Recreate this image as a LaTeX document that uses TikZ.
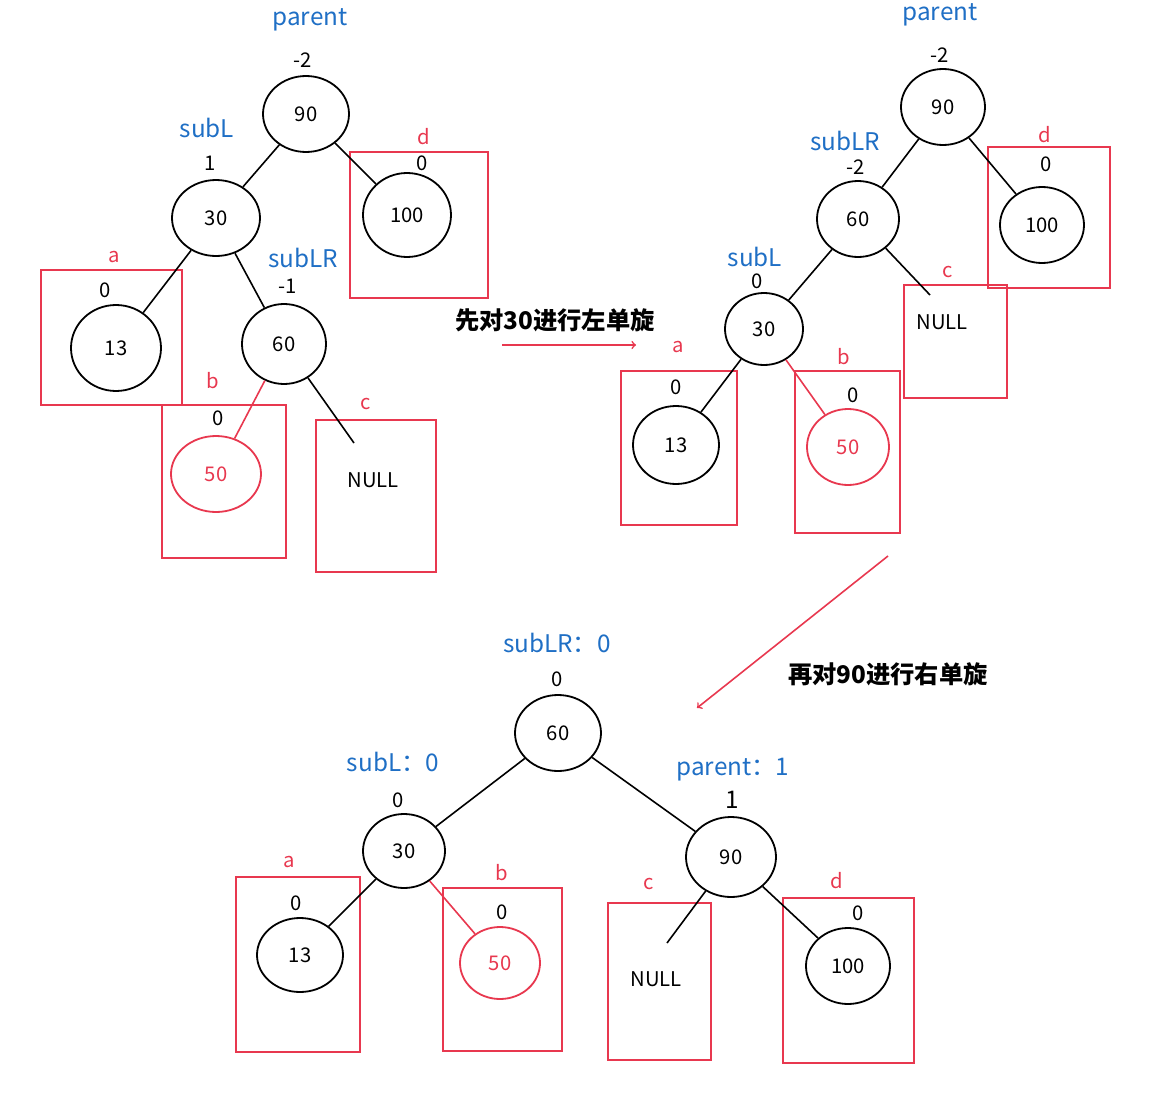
\documentclass[tikz,border=0pt]{standalone}
\usepackage{fontspec}
\setmainfont{Noto Sans CJK SC}
\usetikzlibrary{shapes.geometric}
\definecolor{lblue}{HTML}{1F6FC5}
\definecolor{lred}{HTML}{E8384F}
\tikzset{
  nd/.style={draw, ellipse, line width=0.45mm, fill=white, inner sep=0pt, font=\Large},
  rnd/.style={nd, draw=lred, text=lred},
  sz/.style 2 args={minimum width=#1*0.025cm, minimum height=#2*0.025cm},
  bx/.style={draw=lred, line width=0.45mm},
  ed/.style={line width=0.4mm},
  bl/.style={text=lblue, font=\LARGE},
  rl/.style={text=lred, font=\Large},
  bf/.style={font=\Large}
}
\begin{document}
\begin{tikzpicture}[x=0.025cm, y=-0.025cm]
\useasboundingbox (0,0) rectangle (1160,1118);

% first tree
\node[bl] (p1) at (310,20) {parent};
\node[bf] at (303,60) {-2};
\node[nd, sz={86}{76}] (a90) at (306,114) {90};
\node[bl] at (207,128) {subL};
\node[bf] at (210,163) {1};
\node[nd, sz={88}{76}] (a30) at (216,218) {30};
\draw[bx] (350,152) rectangle (488,298);
\node[rl] at (424,137) {d};
\node[bf] at (422,163) {0};
\node[nd, sz={88}{84}] (a100) at (407,215) {100};
\draw[bx] (41,270) rectangle (182,405);
\node[rl] at (114,257) {a};
\node[bf] at (105,290) {0};
\node[nd, sz={90}{86}] (a13) at (116,348) {13};
\node[bl] at (303,258) {subLR};
\node[bf] at (288,286) {-1};
\node[nd, sz={84}{80}] (a60) at (284,344) {60};
\draw[bx] (162,405) rectangle (286,558);
\node[rl] at (213,381) {b};
\node[bf] at (218,418) {0};
\node[rnd, sz={90}{76}] (a50) at (216,474) {50};
\draw[bx] (316,420) rectangle (436,572);
\node[rl] at (366,404) {c};
\node[bf] (an) at (373,480) {NULL};
\coordinate (ac) at (354,443);
\draw[ed] (a90) -- (a30);
\draw[ed] (a90) -- (a100);
\draw[ed] (a30) -- (a13);
\draw[ed] (a30) -- (a60);
\draw[ed, lred] (a60) -- (a50);
\draw[ed] (a60) -- (ac);

% first rotation
\node[font=\LARGE\bfseries] (t1) at (555,320) {先对30进行左单旋};
\coordinate (s1) at (502,345);
\coordinate (e1) at (636,345);
\draw[lred, line width=0.4mm, ->] (s1) -- (e1);

% second tree
\node[bl] at (940,15) {parent};
\node[bf] at (940,55) {-2};
\node[nd, sz={84}{76}] (b90) at (943,107) {90};
\node[bl] at (845,141) {subLR};
\node[bf] at (856,167) {-2};
\node[nd, sz={82}{76}] (b60) at (858,219) {60};
\draw[bx] (988,147) rectangle (1110,288);
\node[rl] at (1045,135) {d};
\node[bf] at (1046,164) {0};
\node[nd, sz={84}{76}] (b100) at (1042,225) {100};
\draw[bx] (904,285) rectangle (1007,398);
\node[rl] at (948,272) {c};
\node[bf] (bn) at (942,322) {NULL};
\coordinate (bc) at (930,295);
\node[bl] at (755,257) {subL};
\node[bf] at (757,281) {0};
\node[nd, sz={78}{72}] (b30) at (764,329) {30};
\draw[bx] (621,371) rectangle (737,525);
\node[rl] at (678,347) {a};
\node[bf] at (676,387) {0};
\node[nd, sz={86}{78}] (b13) at (676,445) {13};
\draw[bx] (795,371) rectangle (900,533);
\node[rl] at (844,357) {b};
\node[bf] at (853,395) {0};
\node[rnd, sz={82}{76}] (b50) at (848,447) {50};
\draw[ed] (b90) -- (b60);
\draw[ed] (b90) -- (b100);
\draw[ed] (b60) -- (b30);
\draw[ed] (b30) -- (b13);
\draw[ed, lred] (b30) -- (b50);
\draw[ed] (b60) -- (bc);

% second rotation
\coordinate (s2) at (888,556);
\coordinate (e2) at (697,708);
\draw[lred, line width=0.4mm, ->] (s2) -- (e2);
\node[font=\LARGE\bfseries] (t2) at (888,674) {再对90进行右单旋};

% third tree
\node[bl] at (557,643) {subLR：0};
\node[bf] at (557,679) {0};
\node[nd, sz={86}{76}] (c60) at (558,733) {60};
\node[bl] at (393,762) {subL：0};
\node[bf] at (398,800) {0};
\node[nd, sz={82}{74}] (c30) at (404,851) {30};
\node[bl] at (733,770) {parent：1};
\node[font=\LARGE] at (732,800) {1};
\node[nd, sz={90}{80}] (c90) at (731,857) {90};
\draw[bx] (236,877) rectangle (360,1052);
\node[rl] at (289,862) {a};
\node[bf] at (296,903) {0};
\node[nd, sz={86}{74}] (c13) at (300,955) {13};
\draw[bx] (443,888) rectangle (562,1051);
\node[rl] at (502,873) {b};
\node[bf] at (502,912) {0};
\node[rnd, sz={80}{72}] (c50) at (500,963) {50};
\draw[bx] (608,903) rectangle (711,1060);
\node[rl] at (649,884) {c};
\node[bf] (cn) at (656,979) {NULL};
\coordinate (cc) at (667,943);
\draw[bx] (783,898) rectangle (914,1063);
\node[rl] at (837,881) {d};
\node[bf] at (858,913) {0};
\node[nd, sz={84}{76}] (c100) at (848,966) {100};
\draw[ed] (c60) -- (c30);
\draw[ed] (c60) -- (c90);
\draw[ed] (c30) -- (c13);
\draw[ed, lred] (c30) -- (c50);
\draw[ed] (c90) -- (cc);
\draw[ed] (c90) -- (c100);
\end{tikzpicture}
\end{document}
